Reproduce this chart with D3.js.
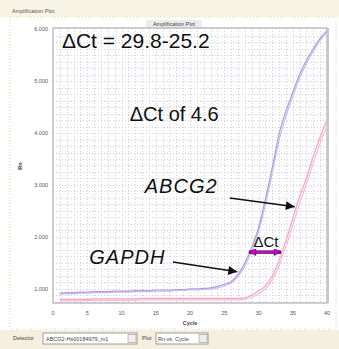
<!DOCTYPE html>
<html><head><meta charset="utf-8">
<script src="https://cdn.jsdelivr.net/npm/d3@7"></script>
<style>html,body{margin:0;padding:0;background:#fff;}svg{display:block;font-family:"Liberation Sans",Arial,sans-serif;}</style>
</head><body><svg id="c" width="339" height="349"></svg>
<script>
const cycles = d3.range(1, 41);
const gapdhA = [0.92,0.93,0.93,0.94,0.94,0.95,0.95,0.95,0.96,0.96,0.96,0.97,0.97,0.97,0.98,0.98,0.98,0.99,0.99,1.00,1.00,1.01,1.02,1.05,1.09,1.14,1.28,1.50,1.80,2.18,2.72,3.33,3.98,4.42,4.78,5.13,5.40,5.62,5.82,5.97];
const gapdhB = [0.90,0.91,0.91,0.92,0.92,0.93,0.93,0.93,0.94,0.94,0.94,0.95,0.95,0.95,0.96,0.96,0.96,0.97,0.97,0.98,0.98,0.99,1.00,1.02,1.06,1.11,1.24,1.44,1.73,2.10,2.62,3.22,3.86,4.32,4.70,5.06,5.34,5.57,5.78,5.93];
const abcg2A = [0.80,0.80,0.80,0.80,0.80,0.81,0.81,0.81,0.81,0.81,0.81,0.81,0.82,0.82,0.82,0.82,0.82,0.82,0.82,0.82,0.82,0.82,0.82,0.82,0.82,0.82,0.82,0.83,0.88,0.96,1.06,1.25,1.55,1.93,2.35,2.78,3.13,3.55,3.92,4.25];
const abcg2B = [0.77,0.77,0.77,0.77,0.78,0.78,0.78,0.78,0.78,0.78,0.78,0.78,0.79,0.79,0.79,0.79,0.79,0.79,0.79,0.79,0.79,0.79,0.79,0.79,0.79,0.79,0.79,0.80,0.84,0.91,1.00,1.17,1.45,1.82,2.22,2.65,3.02,3.42,3.80,4.14];
const yTicks = [1, 2, 3, 4, 5, 6];
const xTicks = [0, 5, 10, 15, 20, 25, 30, 35, 40];

const svg = d3.select("#c");
const x = d3.scaleLinear().domain([0, 40]).range([53, 327]);
const y = d3.scaleLinear().domain([0.73, 6.02]).range([303, 28]);

// panel backgrounds
svg.append("rect").attr("x",0).attr("y",0).attr("width",339).attr("height",17).attr("fill","#f8f4e6");
svg.append("rect").attr("x",0).attr("y",330).attr("width",339).attr("height",19).attr("fill","#f4efdf");
svg.append("rect").attr("x",10).attr("y",17).attr("width",326).attr("height",312).attr("fill","none")
  .attr("stroke","#e6d6b4").attr("stroke-dasharray","1,2");
svg.append("text").attr("x",12).attr("y",13).attr("font-size",5.5).attr("fill","#555").text("Amplification Plot");
svg.append("rect").attr("x",146).attr("y",20).attr("width",56).attr("height",8).attr("fill","#ececec");
svg.append("text").attr("x",174).attr("y",26).attr("text-anchor","middle").attr("font-size",5.5).attr("fill","#444").text("Amplification Plot");

// grid
const g = svg.append("g");
g.selectAll(".vg").data(d3.range(1, 40)).join("line")
  .attr("x1", d => Math.round(x(d))+0.5).attr("x2", d => Math.round(x(d))+0.5).attr("y1", y(6.02)).attr("y2", y(0.73))
  .attr("stroke", "#d2d2e6").attr("stroke-width", 1).attr("stroke-dasharray", "1,2");
g.selectAll(".hg").data(d3.range(0.75, 6.0, 0.125)).join("line")
  .attr("x1", x(0)).attr("x2", x(40)).attr("y1", d => Math.round(y(d))+0.5).attr("y2", d => Math.round(y(d))+0.5)
  .attr("stroke", "#d2d2e6").attr("stroke-width", 1).attr("stroke-dasharray", "1,2");

// frame
svg.append("rect").attr("x",x(0)).attr("y",y(6.02)).attr("width",x(40)-x(0)).attr("height",y(0.73)-y(6.02))
  .attr("fill","none").attr("stroke","#a0a0a0").attr("stroke-width",1);
svg.append("line").attr("x1",x(40)+1).attr("x2",x(40)+1).attr("y1",y(6.02)).attr("y2",y(0.73)).attr("stroke","#c8c8c8").attr("stroke-width",2);

// axes labels
svg.selectAll(".yt").data(yTicks).join("text")
  .attr("x", 48).attr("y", d => y(d)+2).attr("text-anchor","end").attr("font-size",5.5).attr("fill","#555")
  .text(d => d3.format(".3f")(d));
svg.selectAll(".xt").data(xTicks).join("text")
  .attr("x", d => x(d)).attr("y", 315).attr("text-anchor","middle").attr("font-size",5.5).attr("fill","#555")
  .text(d => d);
svg.append("text").attr("x",190).attr("y",325).attr("text-anchor","middle").attr("font-size",5.5).attr("font-weight","bold").attr("fill","#444").text("Cycle");
svg.append("text").attr("transform","translate(22,166) rotate(-90)").attr("text-anchor","middle").attr("font-size",5.5).attr("font-weight","bold").attr("fill","#444").text("Rn");

// curves
const line = d3.line().x((d,i) => x(cycles[i])).y(d => y(d)).curve(d3.curveMonotoneX);
const series = [
  {v: abcg2B, c: "#f6bcd4"}, {v: abcg2A, c: "#f0a4c4"},
  {v: gapdhB, c: "#cabcf0"}, {v: gapdhA, c: "#b09ce0"}
];
svg.selectAll(".crv").data(series).join("path")
  .attr("d", d => line(d.v)).attr("fill","none").attr("stroke", d => d.c).attr("stroke-width",1.2);

// annotations
const ann = svg.append("g").attr("font-family","'Liberation Sans',Arial,sans-serif").attr("fill","#111");
ann.append("text").attr("x",x(1.3)).attr("y",y(5.63)).attr("font-size",21).text("\u0394Ct = 29.8-25.2");
ann.append("text").attr("x",x(11.2)).attr("y",y(4.23)).attr("font-size",20).text("\u0394Ct of 4.6");
ann.append("text").attr("x",x(13.4)).attr("y",y(2.85)).attr("font-size",20).attr("font-style","italic").attr("letter-spacing",1).text("ABCG2");
ann.append("text").attr("x",x(5.3)).attr("y",y(1.48)).attr("font-size",20).attr("font-style","italic").attr("letter-spacing",1).text("GAPDH");
ann.append("text").attr("x",x(31.1)).attr("y",y(1.81)).attr("text-anchor","middle").attr("font-size",15).text("\u0394Ct");

const defs = svg.append("defs");
defs.append("marker").attr("id","ah").attr("viewBox","0 0 10 10").attr("refX",10).attr("refY",5)
  .attr("markerWidth",11).attr("markerHeight",9).attr("markerUnits","userSpaceOnUse").attr("orient","auto")
  .append("path").attr("d","M0,0 L10,5 L0,10 Z").attr("fill","#111");
defs.append("marker").attr("id","mh").attr("viewBox","0 0 10 10").attr("refX",10).attr("refY",5)
  .attr("markerWidth",9).attr("markerHeight",7).attr("markerUnits","userSpaceOnUse").attr("orient","auto-start-reverse")
  .append("path").attr("d","M0,0 L10,5 L0,10 Z").attr("fill","#d000d0").attr("stroke","#400040").attr("stroke-width",0.8);

const arrows = [
  {x1: 25.8, y1: 2.75, x2: 35.3, y2: 2.58},
  {x1: 17.5, y1: 1.52, x2: 26.9, y2: 1.33}
];
svg.selectAll(".ar").data(arrows).join("line")
  .attr("x1", d => x(d.x1)).attr("y1", d => y(d.y1)).attr("x2", d => x(d.x2)).attr("y2", d => y(d.y2))
  .attr("stroke","#111").attr("stroke-width",1.6).attr("marker-end","url(#ah)");
svg.append("line").attr("x1",x(28.6)).attr("x2",x(33.3)).attr("y1",y(1.71)).attr("y2",y(1.71))
  .attr("stroke","#400040").attr("stroke-width",3.2);
svg.append("line").attr("x1",x(28.6)).attr("x2",x(33.3)).attr("y1",y(1.71)).attr("y2",y(1.71))
  .attr("stroke","#e000e0").attr("stroke-width",1.8).attr("marker-start","url(#mh)").attr("marker-end","url(#mh)");

// bottom controls
const b = svg.append("g").attr("font-size",5.5).attr("fill","#444");
b.append("text").attr("x",13).attr("y",340).text("Detector");
b.append("rect").attr("x",43).attr("y",333).attr("width",94).attr("height",11).attr("fill","#fff").attr("stroke","#888").attr("stroke-width",0.8);
b.append("text").attr("x",46).attr("y",340.5).text("ABCG2-Hs00184979_m1");
b.append("rect").attr("x",128).attr("y",334.5).attr("width",8).attr("height",8).attr("fill","#eee").attr("stroke","#999").attr("stroke-width",0.6);
b.append("text").attr("x",142).attr("y",340).text("Plot");
b.append("rect").attr("x",156).attr("y",333).attr("width",52).attr("height",11).attr("fill","#fff").attr("stroke","#888").attr("stroke-width",0.8);
b.append("text").attr("x",158).attr("y",340.5).text("Rn vs. Cycle");
b.append("rect").attr("x",199).attr("y",334.5).attr("width",8).attr("height",8).attr("fill","#eee").attr("stroke","#999").attr("stroke-width",0.6);
</script></body></html>
